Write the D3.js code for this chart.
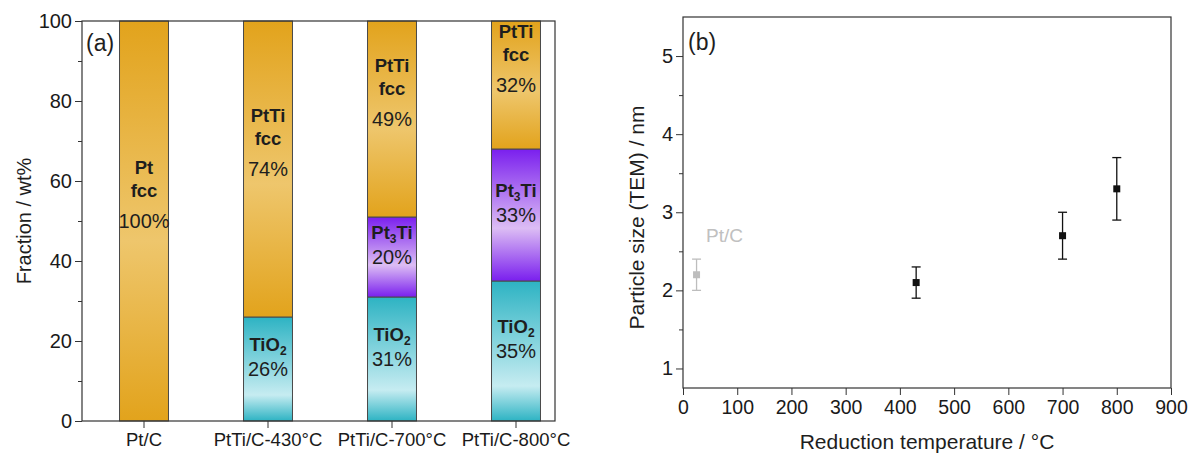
<!DOCTYPE html>
<html>
<head>
<meta charset="utf-8">
<script src="https://cdn.jsdelivr.net/npm/d3@7"></script>
<style>
  body { margin: 0; background: #fff; }
  svg { font-family: "Liberation Sans", Arial, sans-serif; }
  .axis text { fill: #1a1a1a; }
  .axis line, .axis path { stroke: #333; }
</style>
</head>
<body>
<div id="chart"></div>
<script>
// Panel (a) data: phase fractions, wt%
const categories = ["Pt/C", "PtTi/C-430°C", "PtTi/C-700°C", "PtTi/C-800°C"];
const tio2 = [0, 26, 31, 35];
const pt3ti = [0, 0, 20, 33];
const fcc = [100, 74, 49, 32];
const fccName = ["Pt", "PtTi", "PtTi", "PtTi"];

// Panel (b) data: particle size vs reduction temperature
const temps = [430, 700, 800];
const sizes = [2.1, 2.7, 3.3];
const sizeErr = [0.2, 0.3, 0.4];
const ptcTemp = [25];
const ptcSize = [2.2];
const ptcErr = [0.2];

const yTicksA = [0, 20, 40, 60, 80, 100];
const yMinorA = [10, 30, 50, 70, 90];
const xTicksB = [0, 100, 200, 300, 400, 500, 600, 700, 800, 900];
const yTicksB = [1, 2, 3, 4, 5];
const yMinorB = [1.5, 2.5, 3.5, 4.5];

const svg = d3.select('#chart')
    .append('svg')
    .attr('width', 1195)
    .attr('height', 454);

// Gradients for the segments (dark edges, light middle)
const defs = svg.append('defs');
const grads = {
    fcc: [[0, '#e2a31c'], [0.55, '#eec66c'], [1, '#e2a31c']],
    pt3ti: [[0, '#7a1fee'], [0.6, '#dcbdf4'], [1, '#7a1fee']],
    tio2: [[0, '#2db3c3'], [0.75, '#c6ecf1'], [1, '#2db3c3']]
};
Object.entries(grads).forEach(([id, stops]) => {
    const lg = defs.append('linearGradient')
        .attr('id', 'g-' + id)
        .attr('x1', 0).attr('y1', 0).attr('x2', 0).attr('y2', 1);
    stops.forEach(([o, c]) => lg.append('stop').attr('offset', o).attr('stop-color', c));
});

// ---------- Panel (a) ----------
const a = { left: 82, right: 555, top: 21, bottom: 421 };
const xA = d3.scaleBand()
    .domain(categories)
    .range([a.left, a.left + 496])
    .paddingInner(0.605)
    .paddingOuter(0.3025);
const yA = d3.scaleLinear().domain([0, 100]).range([a.bottom, a.top]);

const gA = svg.append('g');

// segments
const segs = [];
categories.forEach((c, i) => {
    let base = 0;
    [['tio2', tio2[i]], ['pt3ti', pt3ti[i]], ['fcc', fcc[i]]].forEach(([k, v]) => {
        if (v > 0) segs.push({ cat: c, key: k, y0: base, y1: base + v, v: v, i: i });
        base += v;
    });
});

gA.selectAll('.seg')
    .data(segs)
    .join('rect')
    .attr('class', 'seg')
    .attr('x', d => xA(d.cat))
    .attr('width', xA.bandwidth())
    .attr('y', d => yA(Math.min(d.y1, 100)))
    .attr('height', d => yA(d.y0) - yA(Math.min(d.y1, 100)))
    .attr('fill', d => `url(#g-${d.key})`)
    .attr('stroke', '#4a4a4a')
    .attr('stroke-width', 1);

// segment labels
const lab = gA.selectAll('.lab')
    .data(segs)
    .join('g')
    .attr('class', 'lab')
    .attr('transform', d => `translate(${xA(d.cat) + xA.bandwidth() / 2},${yA((d.y0 + Math.min(d.y1, 100)) / 2)})`)
    .attr('fill', '#1e1e1e')
    .attr('text-anchor', 'middle');

lab.append('text')
    .attr('dy', '0.35em')
    .attr('font-size', 20)
    .text(d => d.v + '%');

lab.each(function(d) {
    const g = d3.select(this);
    if (d.key === 'fcc') {
        g.append('text').attr('y', -53).attr('dy', '0.35em')
            .attr('font-size', 18.5).attr('font-weight', 'bold').text(fccName[d.i]);
        g.append('text').attr('y', -30).attr('dy', '0.35em')
            .attr('font-size', 18.5).attr('font-weight', 'bold').text('fcc');
    } else if (d.key === 'pt3ti') {
        const t = g.append('text').attr('y', -24).attr('dy', '0.35em')
            .attr('font-size', 18.5).attr('font-weight', 'bold');
        t.append('tspan').text('Pt');
        t.append('tspan').attr('font-size', 12).attr('dy', 4).text('3');
        t.append('tspan').attr('dy', -4).text('Ti');
    } else {
        const t = g.append('text').attr('y', -24).attr('dy', '0.35em')
            .attr('font-size', 18.5).attr('font-weight', 'bold');
        t.append('tspan').text('TiO');
        t.append('tspan').attr('font-size', 12).attr('dy', 4).text('2');
    }
});

// axes
gA.append('g')
    .attr('class', 'axis')
    .attr('transform', `translate(${a.left},0)`)
    .call(d3.axisLeft(yA).tickValues(yTicksA).tickSize(7).tickPadding(3))
    .call(g => g.select('.domain').remove())
    .selectAll('text').attr('font-size', 20);
gA.append('g')
    .attr('class', 'axis')
    .attr('transform', `translate(${a.left},0)`)
    .call(d3.axisLeft(yA).tickValues(yMinorA).tickSize(4).tickFormat(''))
    .call(g => g.select('.domain').remove());
gA.append('g')
    .attr('class', 'axis')
    .attr('transform', `translate(0,${a.bottom})`)
    .call(d3.axisBottom(xA).tickSize(7).tickPadding(5))
    .call(g => g.select('.domain').remove())
    .selectAll('text').attr('font-size', 18.5);

gA.append('rect')
    .attr('x', a.left).attr('y', a.top)
    .attr('width', a.right - a.left).attr('height', a.bottom - a.top)
    .attr('fill', 'none').attr('stroke', '#333').attr('stroke-width', 1.2);

gA.append('text')
    .attr('transform', `translate(24,${(a.top + a.bottom) / 2}) rotate(-90)`)
    .attr('text-anchor', 'middle')
    .attr('dy', '0.35em')
    .attr('font-size', 20)
    .attr('fill', '#1e1e1e')
    .text('Fraction / wt%');

gA.append('text')
    .attr('x', 86).attr('y', 43)
    .attr('dy', '0.35em')
    .attr('font-size', 23)
    .attr('fill', '#1e1e1e')
    .text('(a)');

// ---------- Panel (b) ----------
const b = { left: 683, right: 1171, top: 17, bottom: 388 };
const xB = d3.scaleLinear().domain([0, 900]).range([b.left, b.right]);
const yB = d3.scaleLinear().domain([0.75, 5.5]).range([b.bottom, b.top]);

const gB = svg.append('g');

gB.append('g')
    .attr('class', 'axis')
    .attr('transform', `translate(${b.left},0)`)
    .call(d3.axisLeft(yB).tickValues(yTicksB).tickFormat(d3.format('d')).tickSize(7).tickPadding(3))
    .call(g => g.select('.domain').remove())
    .selectAll('text').attr('font-size', 20);
gB.append('g')
    .attr('class', 'axis')
    .attr('transform', `translate(${b.left},0)`)
    .call(d3.axisLeft(yB).tickValues(yMinorB).tickSize(4).tickFormat(''))
    .call(g => g.select('.domain').remove());
gB.append('g')
    .attr('class', 'axis')
    .attr('transform', `translate(0,${b.bottom})`)
    .call(d3.axisBottom(xB).tickValues(xTicksB).tickFormat(d3.format('d')).tickSize(7).tickPadding(5))
    .call(g => g.select('.domain').remove())
    .selectAll('text').attr('font-size', 19.5);

gB.append('rect')
    .attr('x', b.left).attr('y', b.top)
    .attr('width', b.right - b.left).attr('height', b.bottom - b.top)
    .attr('fill', 'none').attr('stroke', '#333').attr('stroke-width', 1.2);

// points with error bars
function drawPoints(xs, ys, es, color) {
    const d = xs.map((x, i) => ({ x: x, y: ys[i], e: es[i] }));
    const p = gB.append('g').attr('stroke', color).attr('stroke-width', 1.3);
    p.selectAll('.eb').data(d).join('line')
        .attr('x1', v => xB(v.x)).attr('x2', v => xB(v.x))
        .attr('y1', v => yB(v.y - v.e)).attr('y2', v => yB(v.y + v.e));
    [-1, 1].forEach(s => {
        p.selectAll('.cap' + s).data(d).join('line')
            .attr('x1', v => xB(v.x) - 4.5).attr('x2', v => xB(v.x) + 4.5)
            .attr('y1', v => yB(v.y + s * v.e)).attr('y2', v => yB(v.y + s * v.e));
    });
    gB.append('g').selectAll('rect').data(d).join('rect')
        .attr('x', v => xB(v.x) - 3.5).attr('y', v => yB(v.y) - 3.5)
        .attr('width', 7).attr('height', 7)
        .attr('fill', color);
}
drawPoints(ptcTemp, ptcSize, ptcErr, '#bdbdbd');
drawPoints(temps, sizes, sizeErr, '#111');

gB.append('text')
    .attr('x', xB(ptcTemp[0]) + 28).attr('y', yB(ptcSize[0]) - 39)
    .attr('text-anchor', 'middle').attr('dy', '0.35em')
    .attr('font-size', 19).attr('fill', '#c0c0c0')
    .text('Pt/C');

gB.append('text')
    .attr('transform', `translate(637,${(b.top + b.bottom) / 2 + 15}) rotate(-90)`)
    .attr('text-anchor', 'middle').attr('dy', '0.35em')
    .attr('font-size', 21).attr('fill', '#1e1e1e')
    .text('Particle size (TEM) / nm');

gB.append('text')
    .attr('x', (b.left + b.right) / 2).attr('y', 442)
    .attr('text-anchor', 'middle').attr('dy', '0.35em')
    .attr('font-size', 21).attr('fill', '#1e1e1e')
    .text('Reduction temperature / °C');

gB.append('text')
    .attr('x', 688).attr('y', 42)
    .attr('dy', '0.35em')
    .attr('font-size', 23).attr('fill', '#1e1e1e')
    .text('(b)');
</script>
</body>
</html>
